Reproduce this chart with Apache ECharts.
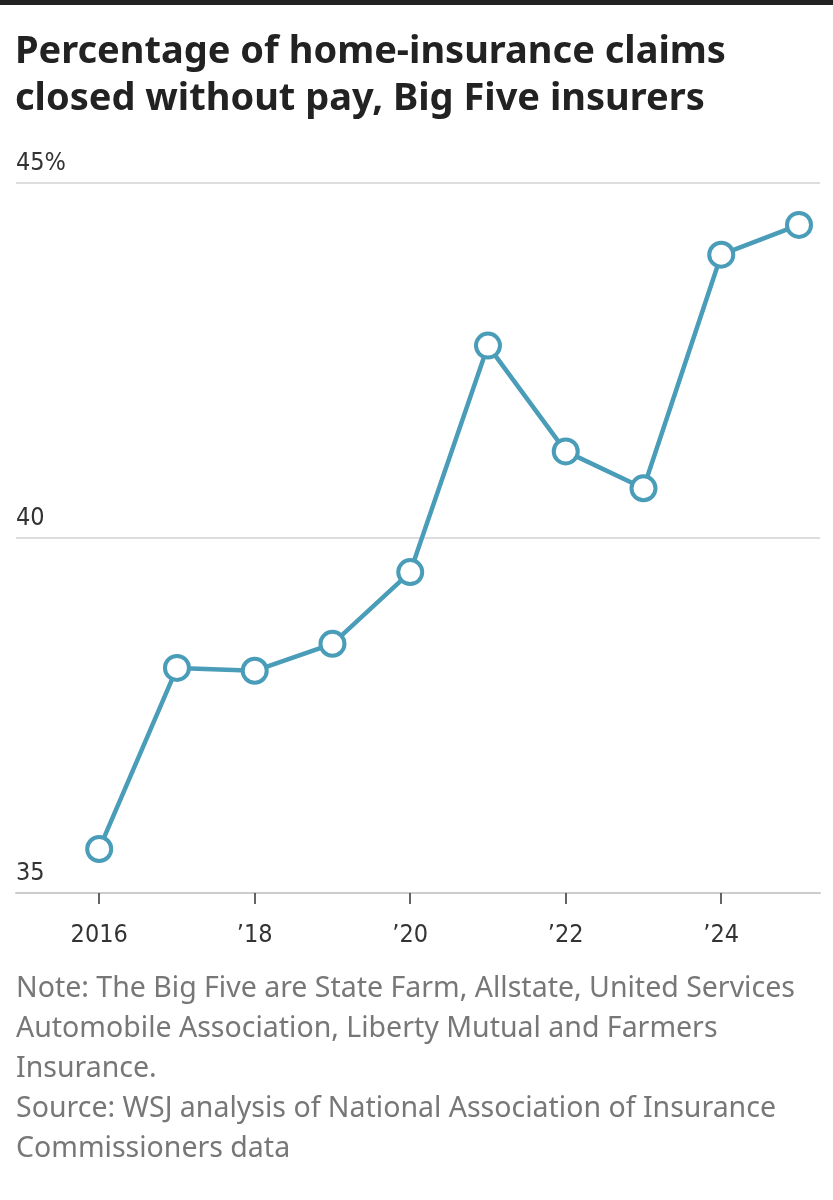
<!DOCTYPE html>
<html>
<head>
<meta charset="utf-8">
<script src="https://cdn.jsdelivr.net/npm/echarts@6/dist/echarts.min.js"></script>
<style>
  html, body { margin: 0; padding: 0; background: #fff; }
  #chart { width: 833px; height: 1200px; }
</style>
</head>
<body>
<div id="chart"></div>
<script>
// data
var years = [2016, 2017, 2018, 2019, 2020, 2021, 2022, 2023, 2024, 2025];
var shares = [35.62, 38.17, 38.13, 38.51, 39.52, 42.71, 41.22, 40.70, 43.99, 44.41];
var yearTicks = [2016, 2018, 2020, 2022, 2024];
var yearLabels = ["2016", "\u201918", "\u201920", "\u201922", "\u201924"];
var noteLines = [
    "Note: The Big Five are State Farm, Allstate, United Services",
    "Automobile Association, Liberty Mutual and Farmers",
    "Insurance.",
    "Source: WSJ analysis of National Association of Insurance",
    "Commissioners data"
];

var lineColor = "#4a9db8";
var narrow = "'DejaVu Sans Condensed', 'Liberation Sans Narrow', 'Noto Sans', sans-serif";

var myChart = echarts.init(document.getElementById("chart"));

var graphics = [
    { type: "rect", left: 0, top: 0, shape: { width: 833, height: 5 }, style: { fill: "#222" } }
];
noteLines.forEach(function (t, i) {
    graphics.push({
        type: "text",
        left: 16,
        top: 974 + i * 40,
        style: { text: t, fill: "#777", font: "400 28.5px 'Noto Sans', sans-serif" }
    });
});

var option = {
    backgroundColor: "#fff",
    animation: false,
    title: {
        text: "Percentage of home-insurance claims\nclosed without pay, Big Five insurers",
        left: 10,
        top: 24,
        textStyle: {
            fontFamily: "'Noto Sans', sans-serif",
            fontWeight: "bold",
            fontSize: 38,
            lineHeight: 47,
            color: "#222"
        }
    },
    graphic: graphics,
    grid: {
        left: 16,
        right: 13,
        top: 183,
        bottom: 307
    },
    xAxis: {
        type: "value",
        min: 2014.93,
        max: 2025.27,
        splitLine: { show: false },
        axisLine: { show: true, lineStyle: { color: "#ccc", width: 2 } },
        axisTick: {
            show: true,
            customValues: yearTicks,
            length: 11,
            lineStyle: { color: "#333", width: 1.5 }
        },
        axisLabel: {
            customValues: yearTicks,
            margin: 30,
            color: "#333",
            fontSize: 25,
            fontFamily: narrow,
            formatter: function (v) {
                return yearLabels[yearTicks.indexOf(v)];
            }
        }
    },
    yAxis: {
        type: "value",
        min: 35,
        max: 45,
        interval: 5,
        axisLine: { show: false },
        axisTick: { show: false },
        splitLine: { show: true, lineStyle: { color: "#ddd", width: 2 } },
        axisLabel: {
            inside: true,
            margin: 0,
            verticalAlign: "bottom",
            padding: [0, 0, 7, 0],
            color: "#333",
            fontSize: 25,
            fontFamily: narrow,
            formatter: function (v) {
                return v === 45 ? "45%" : String(v);
            }
        }
    },
    series: [
        {
            type: "line",
            data: years.map(function (y, i) { return [y, shares[i]]; }),
            symbol: "circle",
            symbolSize: 24,
            showAllSymbol: true,
            lineStyle: { color: lineColor, width: 4.5 },
            itemStyle: { color: "#fff", borderColor: lineColor, borderWidth: 4 },
            z: 3
        }
    ]
};

myChart.setOption(option);
</script>
</body>
</html>
